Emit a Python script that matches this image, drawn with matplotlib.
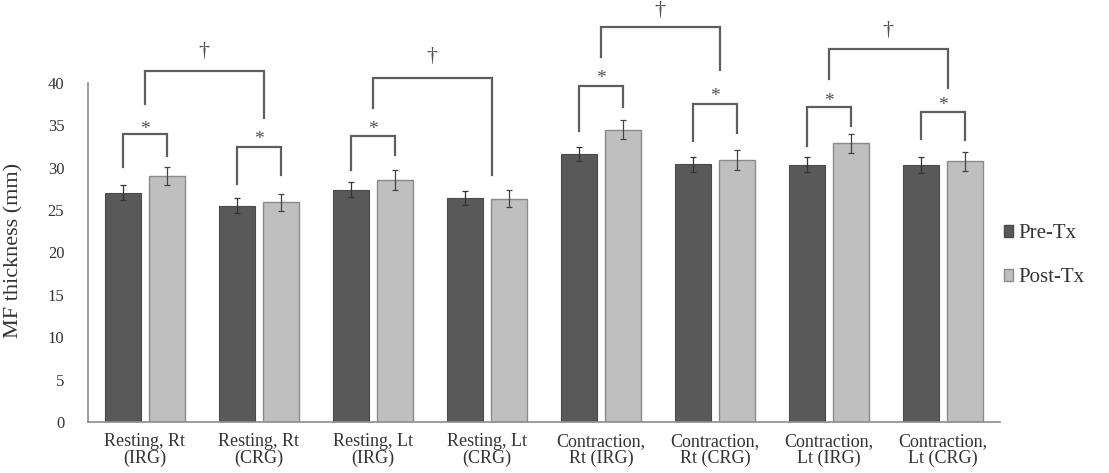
import matplotlib
matplotlib.use("Agg")
import matplotlib.pyplot as plt
import numpy as np
from matplotlib.patches import Patch

categories = ["Resting, Rt\n(IRG)", "Resting, Rt\n(CRG)", "Resting, Lt\n(IRG)", "Resting, Lt\n(CRG)",
              "Contraction,\nRt (IRG)", "Contraction,\nRt (CRG)", "Contraction,\nLt (IRG)", "Contraction,\nLt (CRG)"]
pre_tx = [27.05, 25.5, 27.4, 26.4, 31.6, 30.4, 30.35, 30.3]
post_tx = [29.0, 25.9, 28.5, 26.3, 34.45, 30.9, 32.85, 30.75]
pre_err = [0.9, 0.9, 0.9, 0.8, 0.8, 0.9, 0.9, 0.9]
post_err = [1.1, 1.0, 1.2, 1.0, 1.1, 1.2, 1.1, 1.1]
yticks = [0, 5, 10, 15, 20, 25, 30, 35, 40]

# within-group brackets (*): group index, top, left leg bottom, right leg bottom, label y
star_group = [0, 1, 2, 4, 5, 6, 7]
star_top = [33.9, 32.4, 33.7, 39.6, 37.5, 37.1, 36.6]
star_left_bottom = [30.1, 28.1, 29.7, 34.3, 33.1, 32.5, 33.4]
star_right_bottom = [31.4, 29.1, 31.5, 37.1, 34.1, 34.9, 33.2]
star_label_y = [34.5, 33.3, 34.5, 40.5, 38.4, 37.8, 37.3]

# between-group brackets (dagger)
dag_left = [0, 2, 4, 6]
dag_right = [1, 3, 5, 7]
dag_top = [41.4, 40.5, 46.6, 44.0]
dag_left_bottom = [37.5, 37.0, 43.0, 40.4]
dag_right_bottom = [35.8, 29.1, 41.5, 39.4]
dag_label_y = [43.7, 43.1, 48.5, 46.1]

plt.rcParams['font.family'] = ['Liberation Serif', 'DejaVu Serif']

fig = plt.figure(figsize=(11.09, 4.73), dpi=100)
ax = fig.add_axes([0.0793, 0.1078, 0.8224, 0.7173])

x = np.arange(len(categories))
w = 0.315
off = 0.193
dark = "#595959"
light = "#bfbfbf"
ax.bar(x - off, pre_tx, w, color=dark, edgecolor="#4a4a4a", linewidth=0.8, label="Pre-Tx", zorder=2)
ax.bar(x + off, post_tx, w, color=light, edgecolor="#8a8a8a", linewidth=1.0, label="Post-Tx", zorder=2)
ax.errorbar(x - off, pre_tx, yerr=pre_err, fmt="none", ecolor="#333333", elinewidth=0.9, capsize=2, capthick=0.9, zorder=3)
ax.errorbar(x + off, post_tx, yerr=post_err, fmt="none", ecolor="#444444", elinewidth=0.9, capsize=2, capthick=0.9, zorder=3)

ax.set_xlim(-0.5, len(categories) - 0.5)
ax.set_ylim(0, 40)
ax.set_yticks(yticks)
ax.set_yticklabels([str(t) for t in yticks], fontsize=12, color="#333333")
ax.set_xticks(x)
ax.set_xticklabels(categories, fontsize=13, color="#333333", linespacing=1.0)
ax.tick_params(axis="both", length=0)
ax.tick_params(axis="y", pad=17)
ax.tick_params(axis="x", pad=8)
for s in ["top", "right"]:
    ax.spines[s].set_visible(False)
for s in ["left", "bottom"]:
    ax.spines[s].set_color("#8c8c8c")
    ax.spines[s].set_linewidth(1.2)

lc = "#5e5e5e"
lw = 1.6
for g, t, lb, rb, ly in zip(star_group, star_top, star_left_bottom, star_right_bottom, star_label_y):
    x1, x2 = g - off, g + off
    ax.plot([x1, x1, x2, x2], [lb, t, t, rb], color=lc, lw=lw, clip_on=False, solid_joinstyle="miter")
    ax.text((x1 + x2) / 2, ly, "*", ha="center", va="center", fontsize=14, color="#505050", clip_on=False)

for a, b, t, lb, rb, ly in zip(dag_left, dag_right, dag_top, dag_left_bottom, dag_right_bottom, dag_label_y):
    x1, x2 = a, b + 0.04
    ax.plot([x1, x1, x2, x2], [lb, t, t, rb], color=lc, lw=lw, clip_on=False, solid_joinstyle="miter")
    ax.text((x1 + x2) / 2, ly, "\u2020", ha="center", va="center", fontsize=16, color="#505050", clip_on=False)

fig.text(14 / 1109, 1 - 250 / 473, "MF thickness (mm)", rotation=90, ha="center", va="center",
         fontsize=16, color="#333333")

handles = [Patch(facecolor=dark, edgecolor="#4a4a4a"), Patch(facecolor=light, edgecolor="#8a8a8a")]
fig.legend(handles, ["Pre-Tx", "Post-Tx"], loc="center left", bbox_to_anchor=(0.905, 0.459),
           frameon=False, fontsize=15, handlelength=0.45, handleheight=0.45, handletextpad=0.25,
           labelspacing=1.2, borderpad=0, borderaxespad=0, labelcolor="#333333")

fig.savefig("out.png", dpi=100)
